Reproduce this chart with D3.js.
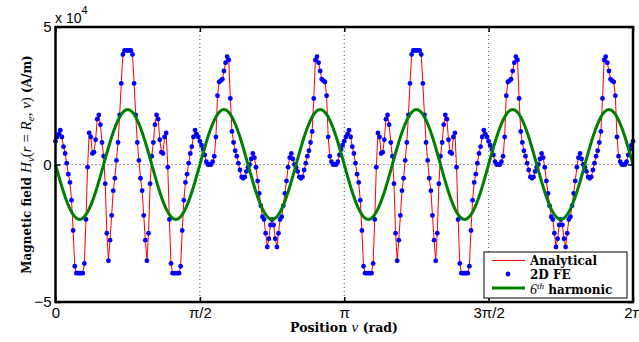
<!DOCTYPE html>
<html><head><meta charset="utf-8">
<script src="https://cdn.jsdelivr.net/npm/d3@7"></script>
<style>body{margin:0;background:#fff} svg{display:block}</style>
</head><body><svg id="c" width="639" height="342"></svg>
<script>
// ---------- data ----------
const xTickValues = [0, Math.PI / 2, Math.PI, 3 * Math.PI / 2, 2 * Math.PI];
const xTickLabels = ["0", "π/2", "π", "3π/2", "2π"];
const yTickValues = [-5, 0, 5];
const yTickLabels = ["−5", "0", "5"];

// field H_nu (x 10^4 A/m), one sample per degree over 0..180 deg (waveform repeats every pi)
const fieldStepDeg = 1;
const fieldHalf = [
  0.85, 1.0, 1.1, 1.25, 1.0, 0.65, 0.4, 0.05, -0.35, -0.65, -1.3, -2.4, -3.7, -3.95, -3.95, -3.95, -3.95, -3.95, -3.6, -2.0,
  -0.1, 1.15, 1.0, 0.4, 0.45, 0.9, 1.65, 1.8, 1.45, 0.8, 0.3, -0.7, -2.5, -3.5, -2.75, -1.85, -0.95, -0.5, 0.15, 0.8,
  1.8, 2.95, 4.0, 4.15, 4.15, 4.15,
  4.15, 4.15, 4.0, 2.95, 1.8, 0.8, 0.15, -0.5, -0.95, -1.85, -2.75, -3.5, -2.5, -0.7, 0.3, 0.8, 1.45, 1.8, 1.65, 0.9,
  0.45, 0.4, 1.0, 1.15, -0.1, -2.0, -3.6, -3.95, -3.95, -3.95, -3.95, -3.95, -3.7, -2.4, -1.3, -0.65, -0.35, 0.05, 0.4,
  0.65, 1.0, 1.25, 1.1, 1.0, 0.85,
  0.7, 0.55, 0.35, 0.1, 0.0, 0.0, 0.0, 0.1, 0.3, 1.0, 2.5, 3.0, 3.05, 3.1, 3.4, 3.7, 3.92, 3.8, 2.4, 1.2,
  0.8, 0.5, 0.3, 0.05, -0.2, -0.45, -0.5, -0.45, -0.25, -0.1, 0.0, 0.2, 0.4, 0.25, -0.1, -0.6, -1.05, -1.5, -1.9, -2.0,
  -2.5, -3.0, -2.7, -2.2, -2.0,
  -2.2, -2.7, -3.0, -2.5, -2.0, -1.9, -1.5, -1.05, -0.6, -0.1, 0.25, 0.4, 0.2, 0.0, -0.1, -0.25, -0.45, -0.5, -0.45, -0.2,
  0.05, 0.3, 0.5, 0.8, 1.2, 2.4, 3.8, 3.92, 3.7, 3.4, 3.1, 3.05, 3.0, 2.5, 1.0, 0.3, 0.1, 0.0, 0.0, 0.0,
  0.1, 0.35, 0.55, 0.7, 0.85
];
const fieldValues = fieldHalf.concat(fieldHalf.slice(1)); // 0..360 deg

// 6th harmonic (x 10^4 A/m), every 5 degrees
const harmonicStepDeg = 5;
const harmonicValues = [
  0, -1, -1.73, -2, -1.73, -1, 0, 1, 1.73, 2, 1.73, 1,
  0, -1, -1.73, -2, -1.73, -1, 0, 1, 1.73, 2, 1.73, 1,
  0, -1, -1.73, -2, -1.73, -1, 0, 1, 1.73, 2, 1.73, 1,
  0, -1, -1.73, -2, -1.73, -1, 0, 1, 1.73, 2, 1.73, 1,
  0, -1, -1.73, -2, -1.73, -1, 0, 1, 1.73, 2, 1.73, 1,
  0, -1, -1.73, -2, -1.73, -1, 0, 1, 1.73, 2, 1.73, 1,
  0
];
const legendLabels = ["Analytical", "2D FE", "harmonic"];

// ---------- chart ----------
const svg = d3.select("#c");
const L = 55.5, R = 633, T = 27, B = 302;
const x = d3.scaleLinear().domain([0, 2 * Math.PI]).range([L, R]);
const y = d3.scaleLinear().domain([-5, 5]).range([B, T]);
const deg = d => d * Math.PI / 180;

const fieldPts = fieldValues.map((v, i) => [deg(i * fieldStepDeg), v]);
const harmPts = harmonicValues.map((v, i) => [deg(i * harmonicStepDeg), v]);

// grid (dotted)
const grid = svg.append("g").attr("stroke", "#444").attr("stroke-width", 1).attr("stroke-dasharray", "1,3");
grid.selectAll("line.gx").data(xTickValues.slice(1, -1)).join("line")
  .attr("x1", d => x(d)).attr("x2", d => x(d)).attr("y1", T).attr("y2", B);
grid.append("line").attr("x1", L).attr("x2", R).attr("y1", y(0)).attr("y2", y(0));

// series
const lineGen = d3.line().x(d => x(d[0])).y(d => y(d[1]));
svg.append("path").datum(fieldPts).attr("d", lineGen)
  .attr("fill", "none").attr("stroke", "#ff0000").attr("stroke-width", 1);
svg.append("g").selectAll("circle").data(fieldPts).join("circle")
  .attr("cx", d => x(d[0])).attr("cy", d => y(d[1])).attr("r", 2.4).attr("fill", "#0000ff");
svg.append("path").datum(harmPts).attr("d", lineGen.curve(d3.curveNatural))
  .attr("fill", "none").attr("stroke", "#008000").attr("stroke-width", 3);

// axes
function styleAxis(g) {
  g.select(".domain").remove();
  g.selectAll(".tick line").attr("stroke", "#000").attr("stroke-width", 1.5);
  g.selectAll(".tick text").attr("font-family", "Liberation Sans, Arial, sans-serif").attr("font-size", 15).attr("fill", "#000");
}
svg.append("g").attr("transform", `translate(0,${B})`)
  .call(d3.axisBottom(x).tickValues(xTickValues).tickFormat((d, i) => xTickLabels[i]).tickSizeInner(-5).tickSizeOuter(0).tickPadding(5))
  .call(styleAxis);
svg.append("g").attr("transform", `translate(0,${T})`)
  .call(d3.axisTop(x).tickValues(xTickValues).tickFormat("").tickSizeInner(-5).tickSizeOuter(0))
  .call(styleAxis);
svg.append("g").attr("transform", `translate(${L},0)`)
  .call(d3.axisLeft(y).tickValues(yTickValues).tickFormat((d, i) => yTickLabels[i]).tickSizeInner(-5).tickSizeOuter(0).tickPadding(4))
  .call(styleAxis);
svg.append("g").attr("transform", `translate(${R},0)`)
  .call(d3.axisRight(y).tickValues(yTickValues).tickFormat("").tickSizeInner(-5).tickSizeOuter(0))
  .call(styleAxis);

// frame
svg.append("rect").attr("x", L).attr("y", T).attr("width", R - L).attr("height", B - T)
  .attr("fill", "none").attr("stroke", "#000").attr("stroke-width", 2.5);

// exponent label
const ex = svg.append("text").attr("x", 55).attr("y", 23)
  .attr("font-family", "Liberation Sans, Arial, sans-serif").attr("font-size", 14).attr("fill", "#000");
ex.append("tspan").text("x 10");
ex.append("tspan").attr("font-size", 11).attr("dy", -9).text("4");

// axis titles
const serif = "DejaVu Serif, serif";
const mathf = "Liberation Serif, Times New Roman, serif";
const xl = svg.append("text").attr("x", 344).attr("y", 332).attr("text-anchor", "middle")
  .attr("font-size", 12.5).attr("fill", "#000");
xl.append("tspan").attr("font-family", serif).attr("font-weight", "bold").text("Position ");
xl.append("tspan").attr("font-family", mathf).attr("font-style", "italic").attr("font-size", 15).text("ν");
xl.append("tspan").attr("font-family", serif).attr("font-weight", "bold").text(" (rad)");

const yl = svg.append("text").attr("transform", `translate(31,${(T + B) / 2}) rotate(-90)`)
  .attr("text-anchor", "middle").attr("font-size", 12).attr("fill", "#000");
yl.append("tspan").attr("font-family", serif).attr("font-weight", "bold").text("Magnetic field ");
yl.append("tspan").attr("font-family", mathf).attr("font-style", "italic").attr("font-size", 15).text("H");
yl.append("tspan").attr("font-family", mathf).attr("font-style", "italic").attr("font-size", 11).attr("dy", 3).text("ν");
yl.append("tspan").attr("font-family", mathf).attr("font-size", 15).attr("dy", -3).text("(");
yl.append("tspan").attr("font-family", mathf).attr("font-style", "italic").attr("font-size", 15).text("r");
yl.append("tspan").attr("font-family", mathf).attr("font-size", 15).text(" = ");
yl.append("tspan").attr("font-family", mathf).attr("font-style", "italic").attr("font-size", 15).text("R");
yl.append("tspan").attr("font-family", mathf).attr("font-style", "italic").attr("font-size", 11).attr("dy", 3).text("e");
yl.append("tspan").attr("font-family", mathf).attr("font-size", 15).attr("dy", -3).text(", ");
yl.append("tspan").attr("font-family", mathf).attr("font-style", "italic").attr("font-size", 15).text("ν");
yl.append("tspan").attr("font-family", mathf).attr("font-size", 15).text(")");
yl.append("tspan").attr("font-family", serif).attr("font-weight", "bold").text(" (A/m)");

// legend
const lg = svg.append("g");
lg.append("rect").attr("x", 484).attr("y", 252).attr("width", 143).attr("height", 46)
  .attr("fill", "#fff").attr("stroke", "#000").attr("stroke-width", 1);
lg.append("line").attr("x1", 492).attr("x2", 525).attr("y1", 260.5).attr("y2", 260.5).attr("stroke", "#ff0000").attr("stroke-width", 1);
lg.append("circle").attr("cx", 508).attr("cy", 274).attr("r", 2.4).attr("fill", "#0000ff");
lg.append("line").attr("x1", 492).attr("x2", 525).attr("y1", 288).attr("y2", 288).attr("stroke", "#008000").attr("stroke-width", 3);
const lt = (yy) => lg.append("text").attr("x", 530).attr("y", yy).attr("font-size", 12).attr("fill", "#000");
lt(265).attr("font-family", serif).attr("font-weight", "bold").text(legendLabels[0]);
lt(279).attr("font-family", serif).attr("font-weight", "bold").text(legendLabels[1]);
const h = lt(294);
h.append("tspan").attr("font-family", mathf).attr("font-style", "italic").attr("font-size", 14).text("6");
h.append("tspan").attr("font-family", mathf).attr("font-style", "italic").attr("font-size", 9).attr("dy", -5).text("th");
h.append("tspan").attr("font-family", serif).attr("font-weight", "bold").attr("dy", 5).text(" " + legendLabels[2]);
</script>
</body></html>
